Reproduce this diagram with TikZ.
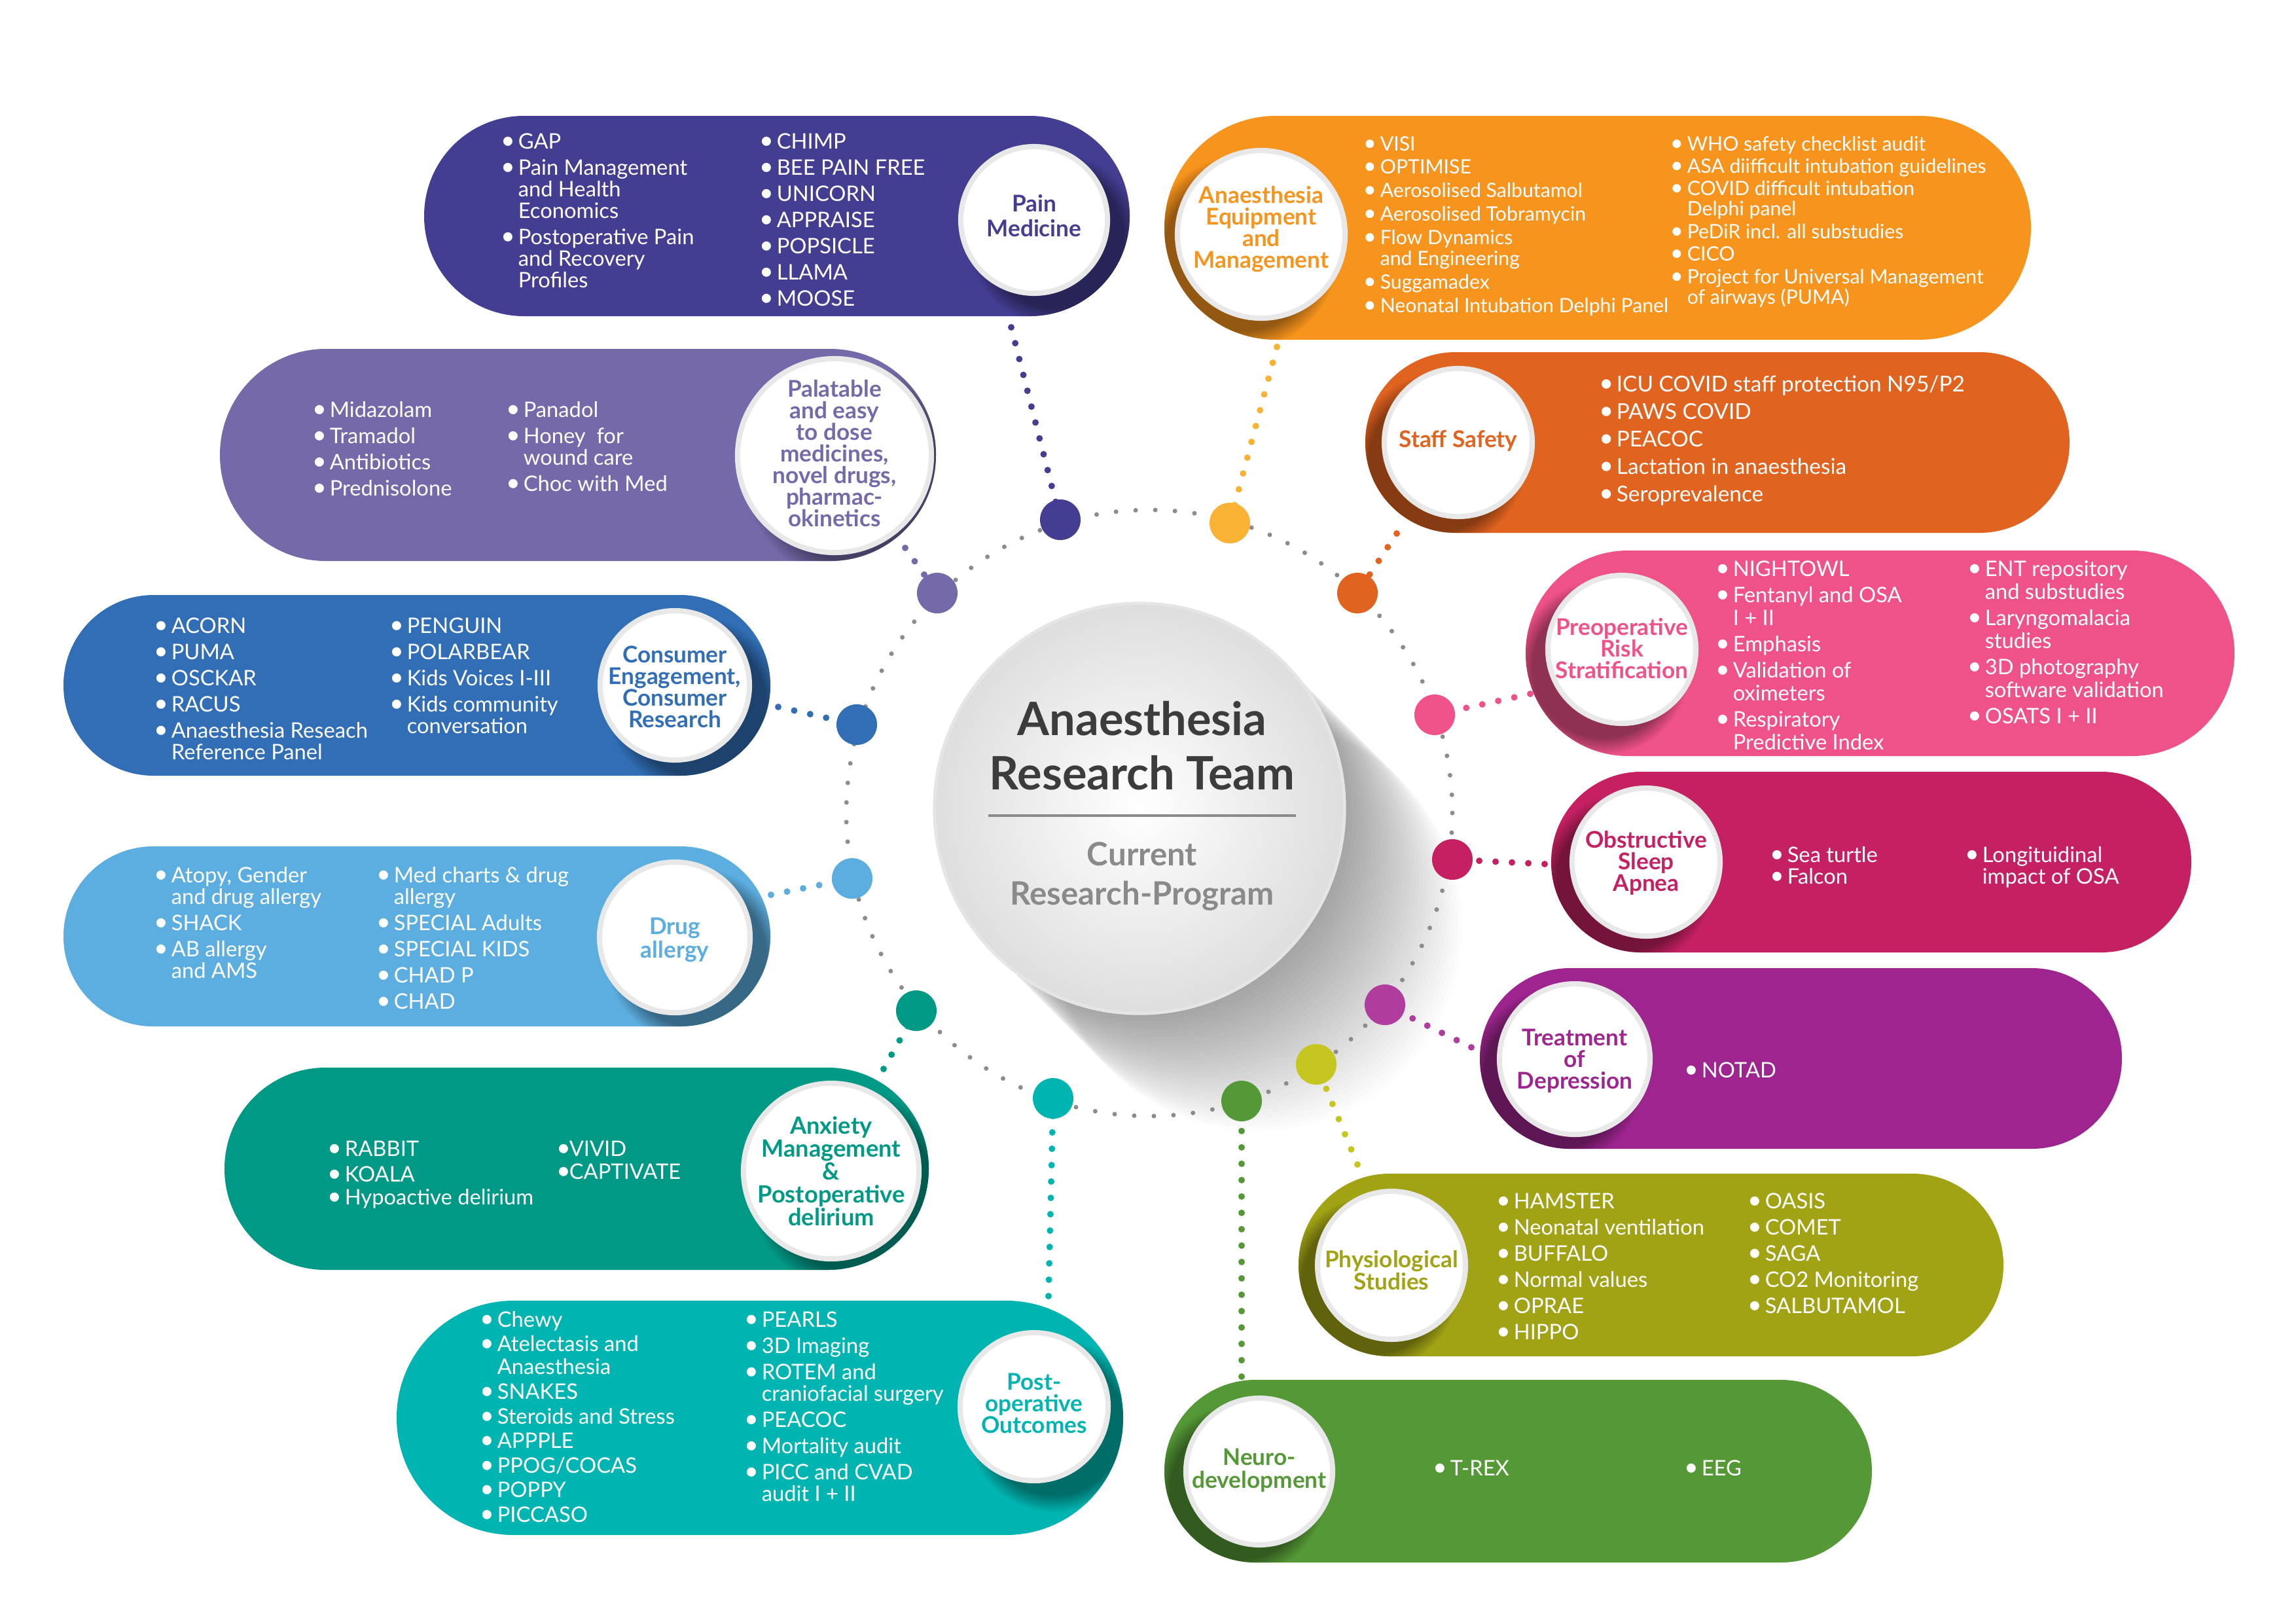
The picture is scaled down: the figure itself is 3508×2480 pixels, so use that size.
\documentclass[tikz,border=0pt]{standalone}
\usepackage{fontspec}
\setmainfont{Lato}
\usetikzlibrary{fadings}
\definecolor{cPain}{HTML}{433E92}
\definecolor{cEquip}{HTML}{F7941D}
\definecolor{dEquip}{HTML}{F9B233}
\definecolor{cPal}{HTML}{7669A9}
\definecolor{cStaff}{HTML}{E0631F}
\definecolor{cCons}{HTML}{316EB6}
\definecolor{cPre}{HTML}{EF5189}
\definecolor{cDrug}{HTML}{5DAEE0}
\definecolor{cOSA}{HTML}{C52162}
\definecolor{cAnx}{HTML}{009985}
\definecolor{cDep}{HTML}{9E258F}
\definecolor{dDep}{HTML}{B03C9E}
\definecolor{cPhy}{HTML}{A1A315}
\definecolor{dPhy}{HTML}{C5C620}
\definecolor{cPost}{HTML}{00B5B1}
\definecolor{cNeu}{HTML}{559836}
\definecolor{cTitle}{HTML}{3C3C3C}
\definecolor{cSub}{HTML}{8A8A8A}
\newcommand{\bul}{\kern-1.4pt\scalebox{1.15}{\textbullet}}
\newcommand{\I}[1]{\hbox{\makebox[6pt][l]{\bul}#1}}
\newcommand{\W}[1]{\hbox{\kern6pt #1}}
\newcommand{\G}[1][2pt]{\vskip#1\relax}
\newcommand{\ctr}[1]{\vtop{\halign{\hfil##\hfil\cr#1\crcr}}}
\newcommand{\fA}{\fontsize{9.3}{9.4}\selectfont}
\newcommand{\pillsh}[9]{%
  \pgfmathsetmacro{\pillr}{(#4-#2)/200-0.005}%
  \fill[#5, rounded corners=\pillr cm] (#1,#2) rectangle (#3,#4);
  \begin{scope}
    \clip[rounded corners=\pillr cm] (#1,#2) rectangle (#3,#4);
    \fill[#5!50!black, fill opacity=0.8, path fading=circle with fuzzy edge 20 percent] (#6+#9,#7+28) circle[radius=#8+20];
  \end{scope}}
\begin{document}
\begin{tikzpicture}[x=0.01cm,y=-0.01cm,
  ringdot/.style={circle, inner sep=0, minimum size=0.62cm},
  conn/.style={line width=0.1cm, line cap=round, dash pattern=on 0pt off 0.25cm},
  ringline/.style={line width=0.07cm, line cap=round, dash pattern=on 0pt off 0.3cm, draw=black!45},
  tcirc/.style={circle, fill=white, draw=black!9, line width=0.08cm, inner sep=0},
  items/.style={anchor=base west, inner sep=0, text=white, font=\fA},
  ttl/.style={anchor=base, inner sep=0, font=\bfseries\fontsize{10}{9.4}\selectfont}]
\useasboundingbox (0,0) rectangle (3508,2480);
\fill[white] (0,0) rectangle (3508,2480);

% central shadow
\foreach \i in {1,...,30} {\fill[black, fill opacity=0.011] (1741+\i*6,1235+\i*6) circle[radius=313];}
% ring
\draw[ringline] (1756,1242) circle[radius=463];

% ring points and connectors
\coordinate (p1) at (1620,794);  \coordinate (s1) at (1545,500);
\coordinate (p2) at (1879,799);  \coordinate (s2) at (1951,530);
\coordinate (p3) at (1432,906);  \coordinate (s3) at (1383,837);
\coordinate (p4) at (2074,906);  \coordinate (s4) at (2134,815);
\coordinate (p5) at (1309,1107); \coordinate (s5) at (1189,1080);
\coordinate (p6) at (2192,1092); \coordinate (s6) at (2338,1060);
\coordinate (p7) at (1302,1342); \coordinate (s7) at (1178,1367);
\coordinate (p8) at (2219,1313); \coordinate (s8) at (2360,1320);
\coordinate (p9) at (1400,1544); \coordinate (s9) at (1350,1633);
\coordinate (p10) at (2116,1535); \coordinate (s10) at (2248,1600);
\coordinate (p11) at (2011,1626); \coordinate (s11) at (2074,1779);
\coordinate (p12) at (1609,1678); \coordinate (s12) at (1602,1980);
\coordinate (p13) at (1897,1682); \coordinate (s13) at (1897,2103);
\draw[conn, draw=cPain] (s1) -- (p1);
\draw[conn, draw=dEquip] (s2) -- (p2);
\draw[conn, draw=cPal] (s3) -- (p3);
\draw[conn, draw=cStaff] (s4) -- (p4);
\draw[conn, draw=cCons] (s5) -- (p5);
\draw[conn, draw=cPre] (s6) -- (p6);
\draw[conn, draw=cDrug] (s7) -- (p7);
\draw[conn, draw=cOSA] (s8) -- (p8);
\draw[conn, draw=cAnx] (s9) -- (p9);
\draw[conn, draw=dDep] (s10) -- (p10);
\draw[conn, draw=dPhy] (s11) -- (p11);
\draw[conn, draw=cPost] (s12) -- (p12);
\draw[conn, draw=cNeu] (s13) -- (p13);
\node[ringdot, fill=cPain] (d1) at (p1) {};
\node[ringdot, fill=dEquip] (d2) at (p2) {};
\node[ringdot, fill=cPal] (d3) at (p3) {};
\node[ringdot, fill=cStaff] (d4) at (p4) {};
\node[ringdot, fill=cCons] (d5) at (p5) {};
\node[ringdot, fill=cPre] (d6) at (p6) {};
\node[ringdot, fill=cDrug] (d7) at (p7) {};
\node[ringdot, fill=cOSA] (d8) at (p8) {};
\node[ringdot, fill=cAnx] (d9) at (p9) {};
\node[ringdot, fill=dDep] (d10) at (p10) {};
\node[ringdot, fill=dPhy] (d11) at (p11) {};
\node[ringdot, fill=cPost] (d12) at (p12) {};
\node[ringdot, fill=cNeu] (d13) at (p13) {};

% central circle
\shade[inner color=white, outer color=black!13] (1741,1235) circle[radius=313];
\node[circle, draw=black!10, line width=0.05cm, minimum size=6.26cm, inner sep=0] (center) at (1741,1235) {};
\node[anchor=base, inner sep=0, text=cTitle, font=\bfseries\fontsize{20}{23.6}\selectfont] (ctitle) at (1745,1123) {\ctr{Anaesthesia\cr Research Team}};
\draw[line width=0.045cm, draw=cSub] (1510,1246) -- (1980,1246);
\node[anchor=base, inner sep=0, text=cSub, font=\bfseries\fontsize{14}{17.3}\selectfont] (csub) at (1745,1322) {\ctr{Current\cr Research-Program}};

% ---- Pill 1: Pain Medicine
\pillsh{648}{177}{1726}{483}{cPain}{1580}{336}{112}{30}
\node[tcirc, minimum size=2.24cm] (cPainC) at (1580,336) {};
\node[ttl, text=cPain, font=\bfseries\fontsize{10}{11}\selectfont] (tPain) at (1580,323) {\ctr{Pain\cr Medicine}};
\node[items] (l1a) at (770,227) {\vtop{\I{GAP}\G\I{Pain Management}\W{and Health}\W{Economics}\G\I{Postoperative Pain}\W{and Recovery}\W{Profiles}}};
\node[items] (l1b) at (1165,227) {\vtop{\I{CHIMP}\G\I{BEE PAIN FREE}\G\I{UNICORN}\G\I{APPRAISE}\G\I{POPSICLE}\G\I{LLAMA}\G\I{MOOSE}}};

% ---- Pill 2: Anaesthesia Equipment
\pillsh{1779}{177}{3103}{519}{cEquip}{1927}{358}{128}{-30}
\node[tcirc, minimum size=2.56cm] (cEquipC) at (1927,358) {};
\node[ttl, text=cEquip] (tEquip) at (1927,310) {\ctr{Anaesthesia\cr Equipment\cr and\cr Management}};
\node[items, font=\fontsize{8.6}{9.1}\selectfont] (l2a) at (2087,230) {\vtop{\I{VISI}\G[1.1pt]\I{OPTIMISE}\G[1.1pt]\I{Aerosolised Salbutamol}\G[1.1pt]\I{Aerosolised Tobramycin}\G[1.1pt]\I{Flow Dynamics}\W{and Engineering}\G[1.1pt]\I{Suggamadex}\G[1.1pt]\I{Neonatal Intubation Delphi Panel}}};
\node[items, font=\fontsize{8.6}{8.8}\selectfont] (l2b) at (2556,230) {\vtop{\I{WHO safety checklist audit}\G[1pt]\I{ASA diifficult intubation guidelines}\G[1pt]\I{COVID difficult intubation}\W{Delphi panel}\G[1pt]\I{PeDiR incl. all substudies}\G[1pt]\I{CICO}\G[1pt]\I{Project for Universal Management}\W{of airways (PUMA)}}};

% ---- Pill 3: Palatable
\pillsh{336}{533}{1430}{857}{cPal}{1275}{696}{148}{30}
\node[tcirc, minimum size=2.96cm] (cPalC) at (1275,696) {};
\node[ttl, text=cPal] (tPal) at (1275,606) {\ctr{Palatable\cr and easy\cr to dose\cr medicines,\cr novel drugs,\cr pharmac-\cr okinetics}};
\node[items] (l3a) at (482,637) {\vtop{\I{Midazolam}\G\I{Tramadol}\G\I{Antibiotics}\G\I{Prednisolone}}};
\node[items] (l3b) at (778,637) {\vtop{\I{Panadol}\G\I{Honey\ \ for}\W{wound care}\G\I{Choc with Med}}};

% ---- Pill 4: Staff Safety
\pillsh{2086}{538}{3162}{814}{cStaff}{2228}{676}{113}{-30}
\node[tcirc, minimum size=2.26cm] (cStaffC) at (2228,676) {};
\node[ttl, text=cStaff] (tStaff) at (2228,683) {Staff Safety};
\node[items, font=\fontsize{9.5}{11.95}\selectfont] (l4a) at (2448,598) {\vtop{\I{ICU COVID staff protection N95/P2}\I{PAWS COVID}\I{PEACOC}\I{Lactation in anaesthesia}\I{Seroprevalence}}};

% ---- Pill 5: Consumer
\pillsh{97}{909}{1177}{1185}{cCons}{1031}{1047}{114}{30}
\node[tcirc, minimum size=2.28cm] (cConsC) at (1031,1047) {};
\node[ttl, text=cCons] (tCons) at (1031,1012) {\ctr{Consumer\cr Engagement,\cr Consumer\cr Research}};
\node[items] (l5a) at (240,967) {\vtop{\I{ACORN}\G\I{PUMA}\G\I{OSCKAR}\G\I{RACUS}\G\I{Anaesthesia Reseach}\W{Reference Panel}}};
\node[items] (l5b) at (600,967) {\vtop{\I{PENGUIN}\G\I{POLARBEAR}\G\I{Kids Voices I-III}\G\I{Kids community}\W{conversation}}};

% ---- Pill 6: Preoperative
\pillsh{2331}{841}{3414}{1155}{cPre}{2478}{992}{113}{-30}
\node[tcirc, minimum size=2.26cm] (cPreC) at (2478,992) {};
\node[ttl, text=cPre] (tPre) at (2478,970) {\ctr{Preoperative\cr Risk\cr Stratification}};
\node[items, font=\fontsize{9.3}{10}\selectfont] (l6a) at (2626,880) {\vtop{\I{NIGHTOWL}\G[1.4pt]\I{Fentanyl and OSA}\W{I + II}\G[1.4pt]\I{Emphasis}\G[1.4pt]\I{Validation of}\W{oximeters}\G[1.4pt]\I{Respiratory}\W{Predictive Index}}};
\node[items, font=\fontsize{9.3}{10}\selectfont] (l6b) at (3011,880) {\vtop{\I{ENT repository}\W{and substudies}\G[1.4pt]\I{Laryngomalacia}\W{studies}\G[1.4pt]\I{3D photography}\W{software validation}\G[1.4pt]\I{OSATS I + II}}};

% ---- Pill 7: Drug allergy
\pillsh{97}{1293}{1177}{1568}{cDrug}{1031}{1432}{115}{30}
\node[tcirc, minimum size=2.3cm] (cDrugC) at (1031,1432) {};
\node[ttl, text=cDrug, font=\bfseries\fontsize{10}{8.8}\selectfont] (tDrug) at (1031,1427) {\ctr{Drug\cr allergy}};
\node[items] (l7a) at (240,1348) {\vtop{\I{Atopy, Gender}\W{and drug allergy}\G\I{SHACK}\G\I{AB allergy}\W{and AMS}}};
\node[items] (l7b) at (580,1348) {\vtop{\I{Med charts \& drug}\W{allergy}\G\I{SPECIAL Adults}\G\I{SPECIAL KIDS}\G\I{CHAD P}\G\I{CHAD}}};

% ---- Pill 8: OSA
\pillsh{2370}{1179}{3348}{1455}{cOSA}{2515}{1317}{113}{-30}
\node[tcirc, minimum size=2.26cm] (cOSAC) at (2515,1317) {};
\node[ttl, text=cOSA] (tOSA) at (2515,1295) {\ctr{Obstructive\cr Sleep\cr Apnea}};
\node[items] (l8a) at (2709,1317) {\vtop{\I{Sea turtle}\I{Falcon}}};
\node[items] (l8b) at (3007,1317) {\vtop{\I{Longituidinal}\W{impact of OSA}}};

% ---- Pill 9: Anxiety
\pillsh{343}{1631}{1419}{1940}{cAnx}{1270}{1789}{134}{30}
\node[tcirc, minimum size=2.68cm] (cAnxC) at (1270,1789) {};
\node[ttl, text=cAnx, font=\bfseries\fontsize{10.3}{10}\selectfont] (tAnx) at (1270,1732) {\ctr{Anxiety\cr Management\cr \&\cr Postoperative\cr delirium}};
\node[items, font=\fontsize{9.3}{10}\selectfont] (l9a) at (505,1766) {\vtop{\I{RABBIT}\G[1.1pt]\I{KOALA}\I{Hypoactive delirium}}};
\node[items, font=\fontsize{9.3}{10}\selectfont] (l9b) at (855,1766) {\vtop{\hbox{\makebox[4pt][l]{\bul}VIVID}\hbox{\makebox[4pt][l]{\bul}CAPTIVATE}}};

% ---- Pill 10: Depression
\pillsh{2261}{1479}{3242}{1755}{cDep}{2406}{1618}{115}{-30}
\node[tcirc, minimum size=2.3cm] (cDepC) at (2406,1618) {};
\node[ttl, text=cDep] (tDep) at (2406,1597) {\ctr{Treatment\cr of\cr Depression}};
\node[items] (l10a) at (2578,1646) {\vtop{\I{NOTAD}}};

% ---- Pill 11: Post-operative
\pillsh{606}{1987}{1716}{2345}{cPost}{1580}{2149}{113}{30}
\node[tcirc, minimum size=2.26cm] (cPostC) at (1580,2149) {};
\node[ttl, text=cPost] (tPost) at (1580,2123) {\ctr{Post-\cr operative\cr Outcomes}};
\node[items, font=\fontsize{9.3}{10}\selectfont] (l11a) at (738,2027) {\vtop{\I{Chewy}\G[0.7pt]\I{Atelectasis and}\W{Anaesthesia}\G[0.7pt]\I{SNAKES}\G[0.7pt]\I{Steroids and Stress}\G[0.7pt]\I{APPPLE}\G[0.7pt]\I{PPOG/COCAS}\G[0.7pt]\I{POPPY}\G[0.7pt]\I{PICCASO}}};
\node[items] (l11b) at (1142,2027) {\vtop{\I{PEARLS}\G\I{3D Imaging}\G\I{ROTEM and}\W{craniofacial surgery}\G\I{PEACOC}\G\I{Mortality audit}\G\I{PICC and CVAD}\W{audit I + II}}};

% ---- Pill 12: Physiological
\pillsh{1984}{1793}{3061}{2072}{cPhy}{2126}{1933}{113}{-30}
\node[tcirc, minimum size=2.26cm] (cPhyC) at (2126,1933) {};
\node[ttl, text=cPhy, font=\bfseries\fontsize{10}{9.7}\selectfont] (tPhy) at (2126,1936) {\ctr{Physiological\cr Studies}};
\node[items] (l12a) at (2291,1846) {\vtop{\I{HAMSTER}\G\I{Neonatal ventilation}\G\I{BUFFALO}\G\I{Normal values}\G\I{OPRAE}\G\I{HIPPO}}};
\node[items] (l12b) at (2675,1846) {\vtop{\I{OASIS}\G\I{COMET}\G\I{SAGA}\G\I{CO2 Monitoring}\G\I{SALBUTAMOL}}};

% ---- Pill 13: Neuro-development
\pillsh{1779}{2108}{2860}{2387}{cNeu}{1924}{2248}{112}{-30}
\node[tcirc, minimum size=2.24cm] (cNeuC) at (1924,2248) {};
\node[ttl, text=cNeu, font=\bfseries\fontsize{10}{10}\selectfont] (tNeu) at (1924,2238) {\ctr{Neuro-\cr development}};
\node[items] (l13a) at (2194,2254) {\vtop{\I{T-REX}}};
\node[items] (l13b) at (2578,2254) {\vtop{\I{EEG}}};
\end{tikzpicture}
\end{document}
